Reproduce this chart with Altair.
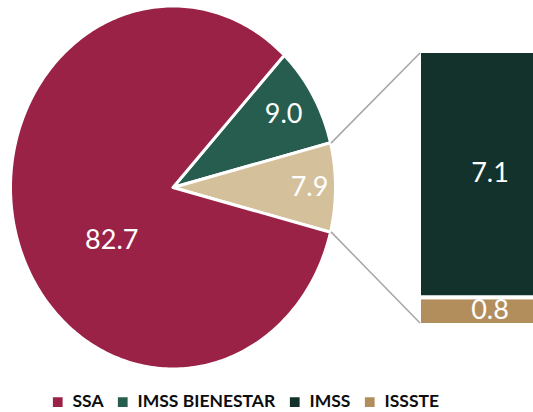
import numpy as np
import pandas as pd
import altair as alt

# ---- data ----
pie_labels = ["IMSS BIENESTAR", "IMSS + ISSSTE", "SSA"]
pie_values = [9.0, 7.9, 82.7]
pie_colors = ["#265D4F", "#D4C19C", "#9B2247"]

bar_labels = ["ISSSTE", "IMSS"]
bar_values = [0.8, 7.1]

legend_labels = ["SSA", "IMSS BIENESTAR", "IMSS", "ISSSTE"]
legend_colors = ["#9B2247", "#265D4F", "#13322B", "#B38E5D"]

# ---- layout constants ----
W, H = 533, 412
CX, CY, RX, RY = 173, 187.5, 162.5, 181.5
BAR_TOP, BAR_BOTTOM, BAR_LEFT = 51, 325, 419
FONT = "Lato"

total = sum(pie_values)
start = np.pi / 2 - (pie_values[0] + pie_values[1] / 2) / total * 2 * np.pi

rows, bounds = [], []
a0 = start
for lab, v in zip(pie_labels, pie_values):
    a1 = a0 + v / total * 2 * np.pi
    rows.append(dict(slice=lab, i=0, px=0.0, py=0.0))
    n = max(int(np.degrees(a1 - a0)), 4)
    for j, a in enumerate(np.linspace(a0, a1, n + 1)):
        rows.append(dict(slice=lab, i=j + 1, px=np.sin(a), py=np.cos(a)))
    bounds.append((a0, a1))
    a0 = a1
pie_df = pd.DataFrame(rows)

# label positions (fraction of radius along an angle)
label_k = [0.79, 0.84, 0.48]
label_shift = [0.0, 0.0, np.radians(-22)]
lab_rows = []
for (b0, b1), lab, v, k, s in zip(bounds, pie_labels, pie_values, label_k, label_shift):
    m = (b0 + b1) / 2 + s
    lab_rows.append(dict(slice=lab, txt=f"{v:.1f}", lx=k * np.sin(m), ly=k * np.cos(m)))
lab_df = pd.DataFrame(lab_rows)

bar_df = pd.DataFrame({"cat": bar_labels, "value": bar_values, "ord": [0, 1]})

xs = alt.Scale(domain=[-1, 1], range=[CX - RX, CX + RX], nice=False, zero=False)
ys = alt.Scale(domain=[-1, 1], range=[CY + RY, CY - RY], nice=False, zero=False)

pie = alt.Chart(pie_df).mark_line(
    interpolate="linear-closed", stroke="white", strokeWidth=3, strokeJoin="round"
).encode(
    x=alt.X("px:Q", scale=xs, axis=None),
    y=alt.Y("py:Q", scale=ys, axis=None),
    fill=alt.Fill("slice:N", scale=alt.Scale(domain=pie_labels, range=pie_colors), legend=None),
    order=alt.Order("i:Q"),
)

pie_text = alt.Chart(lab_df).mark_text(
    font=FONT, fontSize=27, color="white", align="center", baseline="middle"
).encode(
    x=alt.X("lx:Q", scale=xs, axis=None),
    y=alt.Y("ly:Q", scale=ys, axis=None),
    text="txt:N",
)

pie_layer = alt.layer(pie, pie_text)

bys = alt.Scale(domain=[0, sum(bar_values)], range=[BAR_BOTTOM, BAR_TOP], nice=False, zero=False)
bar_base = alt.Chart(bar_df).transform_stack(
    stack="value", groupby=[], as_=["y0", "y1"], sort=[alt.SortField("ord", order="ascending")]
).transform_calculate(mid="(datum.y0 + datum.y1) / 2")

bars = bar_base.mark_rect(stroke="white", strokeWidth=4).encode(
    x=alt.value(BAR_LEFT),
    x2=alt.value(W + 30),
    y=alt.Y("y0:Q", scale=bys, axis=None),
    y2="y1:Q",
    color=alt.Color(
        "cat:N",
        scale=alt.Scale(domain=legend_labels, range=legend_colors),
        legend=alt.Legend(
            title=None, orient="none", legendX=49, legendY=393, direction="horizontal",
            columns=4, symbolType="square", symbolSize=95, symbolStrokeWidth=0,
            labelFont=FONT, labelFontWeight="bold", labelFontSize=17.5, labelColor="#0D0D0D",
            labelOffset=6, columnPadding=10, padding=0,
        ),
    ),
)
bar_text = bar_base.mark_text(
    font=FONT, fontSize=27, color="white", align="center", baseline="middle"
).encode(
    x=alt.value(490),
    y=alt.Y("mid:Q", scale=bys, axis=None),
    text=alt.Text("value:Q", format=".1f"),
)
bar_layer = alt.layer(bars, bar_text)

# connector lines from the "other" slice to the bar
ua, la = bounds[1]
ux, uy = CX + (RX - 1.5) * np.sin(ua) + 2, CY - (RY - 1.5) * np.cos(ua)
lx_, ly_ = CX + (RX - 1.5) * np.sin(la) + 2, CY - (RY - 1.5) * np.cos(la)
one = pd.DataFrame({"k": [0]})
conn_up = alt.Chart(one).mark_rule(color="#A6A6A6", strokeWidth=1.5).encode(
    x=alt.value(float(ux)), y=alt.value(float(uy)),
    x2=alt.value(BAR_LEFT + 1), y2=alt.value(BAR_TOP + 2),
)
conn_lo = alt.Chart(one).mark_rule(color="#A6A6A6", strokeWidth=1.5).encode(
    x=alt.value(float(lx_)), y=alt.value(float(ly_)),
    x2=alt.value(BAR_LEFT + 1), y2=alt.value(BAR_BOTTOM - 2),
)

chart = alt.layer(pie_layer, bar_layer, conn_up, conn_lo).resolve_scale(
    x="independent", y="independent", color="independent", fill="independent"
).properties(
    width=W, height=H, padding=0, autosize=alt.AutoSizeParams(type="none"),
    background="white",
).configure_view(stroke=None)

chart.save("out.html", embed_options={"renderer": "svg", "actions": False})
